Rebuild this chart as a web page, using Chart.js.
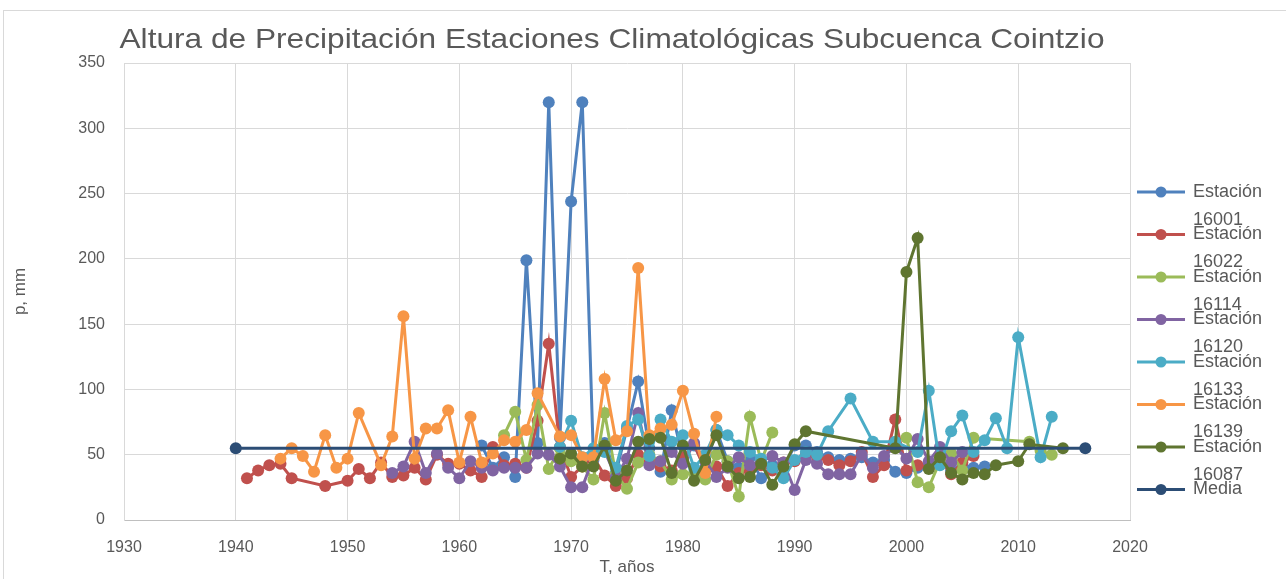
<!DOCTYPE html>
<html>
<head>
<meta charset="utf-8">
<script src="https://cdn.jsdelivr.net/npm/chart.js@4.4.0/dist/chart.umd.min.js"></script>
<style>
  html, body { margin: 0; padding: 0; background: #ffffff; }
  #wrap { position: relative; width: 1286px; height: 579px; }
</style>
</head>
<body>
<div id="wrap"><canvas id="myChart" width="1286" height="579"></canvas></div>
<script>
// axis ticks
let xTicks = [1930, 1940, 1950, 1960, 1970, 1980, 1990, 2000, 2010, 2020];
let yTicks = [0, 50, 100, 150, 200, 250, 300, 350];

// station names (legend)
let stations = ['Estación 16001', 'Estación 16022', 'Estación 16114', 'Estación 16120',
  'Estación 16133', 'Estación 16139', 'Estación 16087', 'Media'];

// Estación 16001
let years16001 = [1962, 1963, 1964, 1965, 1966, 1967, 1968, 1969, 1970, 1971, 1972, 1973, 1974, 1975, 1976, 1977,
  1978, 1979, 1980, 1981, 1982, 1983, 1984, 1985, 1986, 1987, 1988, 1989, 1990, 1991, 1992, 1993, 1994, 1995,
  1996, 1997, 1998, 1999, 2000, 2001, 2002, 2003, 2004, 2005, 2006, 2007];
let p16001 = [57, 40, 48, 33, 199, 59, 320, 63, 244, 320, 46, 59, 36, 70, 106, 55,
  37, 84, 47, 57, 40, 69, 45, 40, 48, 32, 42, 40, 57, 57, 52, 48, 46, 47,
  48, 44, 46, 37, 36, 40, 42, 44, 38, 42, 40, 41];

// Estación 16022
let years16022 = [1941, 1942, 1943, 1944, 1945, 1948, 1950, 1951, 1952, 1953, 1954, 1955, 1956, 1957, 1958, 1959,
  1960, 1961, 1962, 1963, 1964, 1965, 1966, 1967, 1968, 1969, 1970, 1971, 1972, 1973, 1974, 1975, 1976, 1977,
  1978, 1979, 1980, 1981, 1982, 1983, 1984, 1985, 1986, 1987, 1988, 1989, 1990, 1991, 1992, 1993, 1994, 1995,
  1996, 1997, 1998, 1999, 2000, 2001, 2002, 2003, 2004, 2005, 2006];
let p16022 = [32, 38, 42, 43, 32, 26, 30, 39, 32, 44, 33, 34, 40, 31, 50, 43,
  43, 38, 33, 56, 42, 43, 40, 76, 135, 56, 33, 41, 48, 34, 26, 32, 50, 45,
  41, 38, 48, 58, 38, 41, 26, 36, 38, 42, 38, 44, 45, 50, 48, 46, 42, 45,
  52, 33, 42, 77, 38, 42, 40, 46, 35, 44, 49];

// Estación 16114 (null = no data, line is cut)
let years16114 = [1964, 1965, 1966, 1967, 1968, 1969, 1970, 1971, 1972, 1973, 1974, 1975, 1976, 1977, 1978, 1979,
  1980, 1981, 1982, 1983, 1984, 1985, 1986, 1987, 1988, 1994, 2000, 2001, 2002, 2003, 2004, 2005, 2006, 2011,
  2012, 2013];
let p16114 = [65, 83, 46, 88, 39, 55, 45, 41, 31, 82, 35, 24, 44, 50, 45, 31,
  35, 36, 31, 50, 45, 18, 79, 45, 67, null, 63, 29, 25, 45, 51, 38, 63, 60,
  53, 50];

// Estación 16120
let years16120 = [1954, 1955, 1956, 1957, 1958, 1959, 1960, 1961, 1962, 1963, 1964, 1965, 1966, 1967, 1968, 1969,
  1970, 1971, 1972, 1973, 1974, 1975, 1976, 1977, 1978, 1979, 1980, 1981, 1982, 1983, 1984, 1985, 1986, 1987,
  1988, 1989, 1990, 1991, 1992, 1993, 1994, 1995, 1996, 1997, 1998, 1999, 2000, 2001, 2002, 2003, 2004, 2005];
let p16120 = [36, 41, 60, 36, 51, 40, 32, 45, 40, 38, 40, 40, 40, 51, 50, 41,
  25, 25, 48, 53, 33, 47, 82, 42, 45, 52, 43, 59, 45, 33, 40, 48, 42, 45,
  49, 44, 23, 46, 43, 35, 35, 35, 50, 40, 49, 56, 47, 62, 45, 56, 44, 52];

// Estación 16133
let years16133 = [1969, 1970, 1971, 1972, 1973, 1974, 1975, 1976, 1977, 1978, 1979, 1980, 1981, 1982, 1983, 1984,
  1985, 1986, 1987, 1988, 1989, 1990, 1991, 1992, 1993, 1995, 1997, 1999, 2001, 2002, 2003, 2004, 2005, 2006,
  2007, 2008, 2009, 2010, 2012, 2013];
let p16133 = [56, 76, 48, 55, 52, 40, 72, 77, 49, 77, 60, 65, 40, 50, 69, 65,
  57, 52, 47, 40, 32, 46, 52, 50, 68, 93, 60, 60, 52, 99, 42, 68, 80, 52,
  61, 78, 55, 140, 48, 79];

// Estación 16139
let years16139 = [1944, 1945, 1946, 1947, 1948, 1949, 1950, 1951, 1953, 1954, 1955, 1956, 1957, 1958, 1959, 1960,
  1961, 1962, 1963, 1964, 1965, 1966, 1967, 1969, 1970, 1971, 1972, 1973, 1974, 1975, 1976, 1977, 1978, 1979,
  1980, 1981, 1982, 1983];
let p16139 = [47, 55, 49, 37, 65, 40, 47, 82, 42, 64, 156, 47, 70, 70, 84, 44,
  79, 44, 51, 61, 60, 69, 97, 64, 65, 48, 48, 108, 61, 68, 193, 65, 70, 73,
  99, 66, 36, 79];

// Estación 16087
let years16087 = [1969, 1970, 1971, 1972, 1973, 1974, 1975, 1976, 1977, 1978, 1979, 1980, 1981, 1982, 1983, 1984,
  1985, 1986, 1987, 1988, 1989, 1990, 1991, 1999, 2000, 2001, 2002, 2003, 2004, 2005, 2006, 2007, 2008, 2010,
  2011, 2014];
let p16087 = [47, 51, 41, 41, 57, 30, 38, 60, 62, 63, 36, 57, 30, 46, 65, 41,
  32, 33, 43, 27, 41, 58, 68, 55, 190, 216, 39, 48, 36, 31, 36, 35, 42, 45,
  58, 55];

// Media
let yearsMedia = [1940, 2016];
let pMedia = [55, 55];

let allYears = [years16001, years16022, years16114, years16120, years16133, years16139, years16087, yearsMedia];
let allValues = [p16001, p16022, p16114, p16120, p16133, p16139, p16087, pMedia];
let colors = ['#4F81BD', '#C0504D', '#9BBB59', '#8064A2', '#4BACC6', '#F79646', '#5F7530', '#2C4D75'];

let textColor = '#595959';
let fontFam = '"Liberation Sans", Arial, sans-serif';

// join years + values into points for the scatter chart
function toPoints(xs, ys) {
  let pts = [];
  for (let i = 0; i < xs.length; i++) {
    pts.push({ x: xs[i], y: ys[i] });
  }
  return pts;
}

let datasets = [];
for (let i = 0; i < stations.length; i++) {
  datasets.push({
    label: stations[i],
    data: toPoints(allYears[i], allValues[i]),
    showLine: true,
    spanGaps: false,
    borderColor: colors[i],
    backgroundColor: colors[i],
    borderWidth: 3,
    pointRadius: 6,
    pointBorderWidth: 0,
    pointHoverRadius: 6,
    tension: 0,
    // excel draws the last series on top
    order: stations.length - 1 - i
  });
}

// title, frame and the two-line legend are drawn by hand
let decorations = {
  id: 'decorations',
  afterDraw(chart) {
    let ctx = chart.ctx;
    ctx.save();
    // outer frame
    ctx.strokeStyle = '#D9D9D9';
    ctx.lineWidth = 1;
    ctx.strokeRect(3.5, 10.5, 1290, 600);

    // title, stretched a bit sideways like the excel one
    ctx.fillStyle = textColor;
    ctx.font = '28px ' + fontFam;
    ctx.textAlign = 'center';
    ctx.textBaseline = 'middle';
    let title = 'Altura de Precipitación Estaciones Climatológicas Subcuenca Cointzio';
    let w = ctx.measureText(title).width;
    ctx.save();
    ctx.translate(612, 40);
    ctx.scale(985 / w, 1);
    ctx.fillText(title, 0, 0);
    ctx.restore();

    // legend
    ctx.font = '18px ' + fontFam;
    ctx.textAlign = 'left';
    for (let i = 0; i < stations.length; i++) {
      let y = 192 + i * 42.5;
      ctx.strokeStyle = colors[i];
      ctx.lineWidth = 3;
      ctx.beginPath();
      ctx.moveTo(1137, y);
      ctx.lineTo(1185, y);
      ctx.stroke();
      ctx.fillStyle = colors[i];
      ctx.beginPath();
      ctx.arc(1161, y, 5.5, 0, Math.PI * 2);
      ctx.fill();
      ctx.fillStyle = textColor;
      let parts = stations[i].split(' ');
      ctx.fillText(parts[0], 1193, y);
      if (parts[1]) ctx.fillText(parts[1], 1193, y + 28);
    }
    ctx.restore();
  }
};

let ctx = document.getElementById('myChart').getContext('2d');
let myChart = new Chart(ctx, {
  type: 'scatter',
  data: { datasets: datasets },
  plugins: [decorations],
  options: {
    responsive: false,
    animation: false,
    layout: { padding: { left: 0, right: 156, top: 63, bottom: 0 } },
    plugins: {
      legend: { display: false },
      title: { display: false },
      tooltip: { enabled: false }
    },
    scales: {
      x: {
        type: 'linear',
        min: xTicks[0],
        max: xTicks[xTicks.length - 1],
        afterBuildTicks: function (scale) {
          scale.ticks = xTicks.map(v => ({ value: v }));
        },
        afterFit: function (scale) { scale.height = 59; },
        grid: { color: '#D9D9D9', drawTicks: false },
        border: { color: '#BFBFBF' },
        ticks: {
          color: textColor,
          font: { size: 16, family: fontFam },
          padding: 18,
          maxRotation: 0,
          callback: v => String(v)
        },
        title: {
          display: true,
          text: 'T, años',
          color: textColor,
          font: { size: 17, family: fontFam },
          padding: { top: 0, bottom: 1 }
        }
      },
      y: {
        min: yTicks[0],
        max: yTicks[yTicks.length - 1],
        afterBuildTicks: function (scale) {
          scale.ticks = yTicks.map(v => ({ value: v }));
        },
        afterFit: function (scale) { scale.width = 124; },
        grid: { color: '#D9D9D9', drawTicks: false },
        border: { color: '#D9D9D9' },
        ticks: {
          color: textColor,
          font: { size: 16, family: fontFam },
          padding: 19
        },
        title: {
          display: true,
          text: 'p, mm',
          color: textColor,
          font: { size: 17, family: fontFam },
          padding: { top: 10, bottom: 0 }
        }
      }
    }
  }
});
</script>
</body>
</html>
